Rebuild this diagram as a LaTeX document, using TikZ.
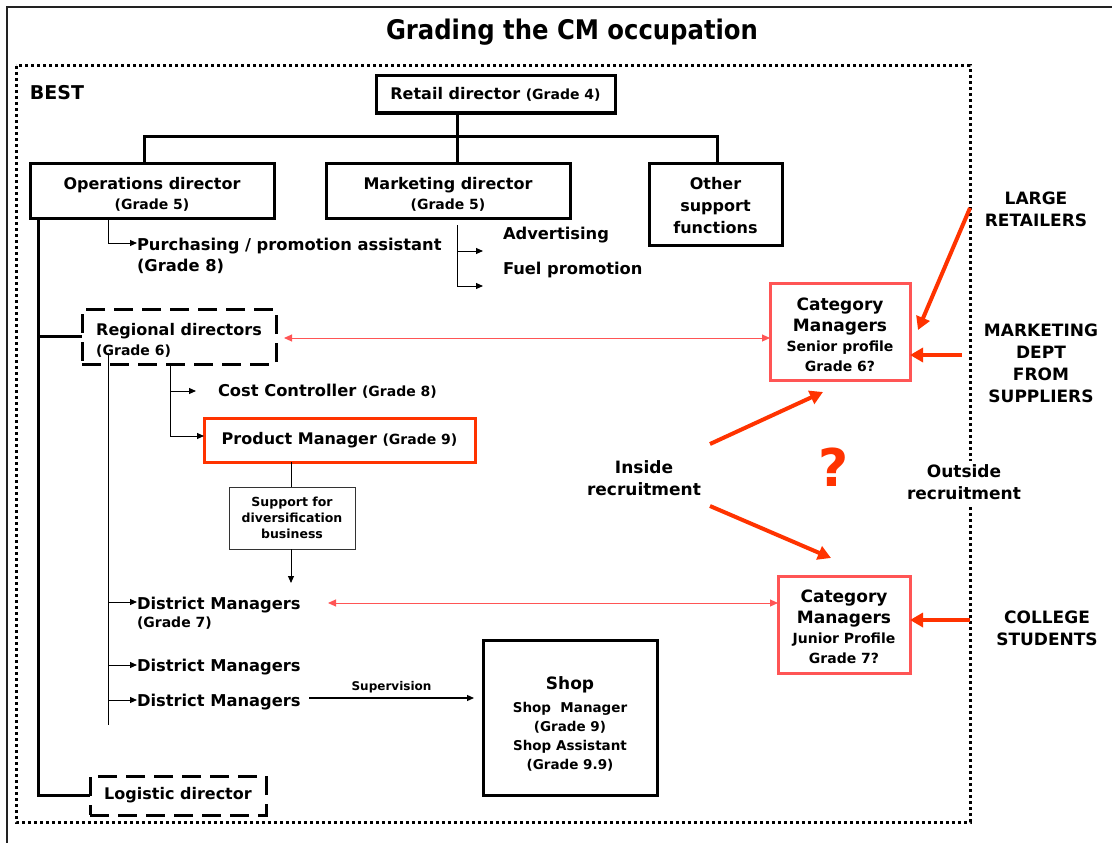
\documentclass[tikz,border=0pt]{standalone}
\usepackage{fontspec}
\setmainfont{DejaVu Sans}
\newfontfamily\titlefont{DejaVu Sans Condensed}
\usetikzlibrary{arrows.meta,calc}
\definecolor{hot}{HTML}{FF3300}
\definecolor{soft}{HTML}{FF5555}
\definecolor{frame}{HTML}{222222}
\newcommand\grd[1]{{\fontsize{14}{15}\selectfont #1}}
\newcommand\sml[1]{{\fontsize{14}{16}\selectfont #1}}
\newcommand\lift[1]{\rule{0pt}{#1}}
\begin{document}
\begin{tikzpicture}[x=1pt,y=-1pt,
  every node/.style={inner sep=0pt,outer sep=0pt},
  txt/.style={font=\fontsize{16}{20}\selectfont\bfseries,align=center},
  ltxt/.style={font=\fontsize{16.3}{20}\selectfont\bfseries,align=left,anchor=west},
  captxt/.style={font=\fontsize{17}{22}\selectfont\bfseries,align=center},
  box/.style={txt,draw,line width=3pt},
  dbox/.style={box,dash pattern=on 19pt off 9pt},
  redbox/.style={box,draw=hot},
  catbox/.style={draw=soft,line width=3pt,align=center,font=\fontsize{17}{21}\selectfont\bfseries},
  smallbox/.style={draw=black!80,line width=1pt,align=center,font=\fontsize{12.5}{16}\selectfont\bfseries},
  tree/.style={line width=3pt},
  thinline/.style={line width=1pt},
  tip/.style={thinline,-{Triangle[length=7pt,width=6pt]}},
  link/.style={soft,line width=1pt,{Triangle[length=8pt,width=7pt]}-{Triangle[length=8pt,width=7pt]}},
  push/.style={hot,line width=4pt,-{Triangle[length=13pt,width=14pt]}}
]
\useasboundingbox (0,0) rectangle (1112,843);

% outer frame and the dotted BEST boundary
\draw[frame,line width=1.8pt] (7,843) -- (7,7) -- (1112,7);
\draw[line width=3pt,dash pattern=on 3pt off 3pt] (16,66) rectangle (970,822);

\node[font=\fontsize{27}{30}\selectfont\titlefont\bfseries] (title) at (572,32) {Grading the CM occupation};
\node[font=\fontsize{19}{20}\selectfont\bfseries,anchor=west] (best) at (30,93) {BEST};

% top of the hierarchy
\node[box,minimum width=239pt,minimum height=37pt] (retail) at (495.5,94.5) {Retail director \grd{(Grade 4)}};
\node[box,minimum width=244pt,minimum height=55pt] (ops) at (152,190.5) {\lift{19pt}Operations director\\[0pt]\grd{(Grade 5)}};
\node[box,minimum width=244pt,minimum height=55pt] (mkt) at (448,190.5) {\lift{19pt}Marketing director\\[0pt]\grd{(Grade 5)}};
\node[box,minimum width=133pt,minimum height=82pt] (other) at (715.5,204) {\lift{16pt}Other\\[2pt]support\\[2pt]functions};

\coordinate (busL) at (144,136);
\coordinate (busM) at (457,136);
\coordinate (busR) at (717,136);
\draw[tree] (busM |- retail.south) -- (busM) -- (busM |- mkt.north);
\draw[tree] (busL |- ops.north) -- (busL) -- (busR) -- (busR |- other.north);

% operations director branch
\node[ltxt] (purch) at (137,256) {Purchasing / promotion assistant\\[1pt](Grade 8)};
\coordinate (opsTap) at (108,243);
\draw[tip] (opsTap |- ops.south) -- (opsTap) -- (opsTap -| purch.west);

% marketing director branch
\node[ltxt] (adv) at (503,235) {Advertising};
\node[ltxt] (fuel) at (503,270) {Fuel promotion};
\coordinate (mTop) at (457,225);
\coordinate (mA) at (457,251);
\coordinate (mB) at (457,286);
\coordinate (mAe) at (483,251);
\coordinate (mBe) at (483,286);
\draw[thinline] (mTop) -- (mB);
\draw[tip] (mA) -- (mAe);
\draw[tip] (mB) -- (mBe);

% regional and logistic directors
\node[dbox,minimum width=194pt,minimum height=55pt,align=left] (reg) at (179,336.5) {\lift{20pt}Regional directors\\[0pt]\grd{(Grade 6)}};
\node[dbox,minimum width=176pt,minimum height=39pt] (logi) at (178,795.5) {Logistic director};
\coordinate (spine) at (38,795.5);
\draw[tree] (spine |- ops.south) -- (spine) -- (logi.west);
\draw[tree] (spine |- reg.west) -- (reg.west);

% cost controller and product manager
\node[ltxt] (cost) at (218,391) {Cost Controller \grd{(Grade 8)}};
\node[redbox,minimum width=271pt,minimum height=44pt] (pm) at (339.5,440) {Product Manager \grd{(Grade 9)}};
\coordinate (rTap) at (170,436);
\coordinate (rA) at (170,391);
\coordinate (rAe) at (196,391);
\draw[thinline] (rTap |- reg.south) -- (rTap);
\draw[tip] (rA) -- (rAe);
\draw[tip] (rTap) -- (rTap -| pm.west) ;

% diversification support
\node[smallbox,minimum width=126pt,minimum height=62pt] (sup) at (292,518) {Support for\\diversification\\business};
\coordinate (supEnd) at (291,583);
\draw[thinline] (pm.south -| supEnd) -- (sup.north -| supEnd);
\draw[tip] (sup.south -| supEnd) -- (supEnd);

% district managers
\node[ltxt] (dm1) at (137,613) {District Managers\\[-2pt]\grd{(Grade 7)}};
\node[ltxt] (dm2) at (137,667) {District Managers};
\node[ltxt] (dm3) at (137,702) {District Managers};
\coordinate (vTop) at (108,353);
\coordinate (vBot) at (108,725);
\coordinate (d1) at (108,602);
\coordinate (d2) at (108,665);
\coordinate (d3) at (108,700);
\draw[thinline] (vTop) -- (vBot);
\draw[tip] (d1) -- (d1 -| dm1.west);
\draw[tip] (d2) -- (d2 -| dm2.west);
\draw[tip] (d3) -- (d3 -| dm3.west);

% shop
\node[draw,line width=3pt,minimum width=174pt,minimum height=155pt] (shop) at (570,717.5) {};
\node[font=\fontsize{17}{20}\selectfont\bfseries] (shopT) at (570,685) {Shop};
\node[font=\fontsize{13.5}{19}\selectfont\bfseries,align=center] (shopL) at (570,737) {Shop\ \ Manager\\(Grade 9)\\Shop Assistant\\(Grade 9.9)};
\coordinate (supS) at (309,698);
\coordinate (supE) at (474,698);
\draw[tip,line width=1.2pt] (supS) -- node[above=5pt,font=\fontsize{12}{14}\selectfont\bfseries] (supLbl) {Supervision} (supE);

% category managers
\node[catbox,minimum width=140pt,minimum height=97pt] (cms) at (840,331.5) {\lift{19pt}Category\\[0pt]Managers\\[-1pt]\sml{Senior profile}\\[-1pt]\sml{Grade 6?}};
\node[catbox,minimum width=132pt,minimum height=97pt] (cmj) at (844,624.5) {\lift{17pt}Category\\[0pt]Managers\\[-1pt]\sml{Junior Profile}\\[-1pt]\sml{Grade 7?}};
\coordinate (lnkA) at (284,338);
\coordinate (lnkB) at (328,603);
\draw[link] (lnkA) -- (lnkA -| cms.west);
\draw[link] (lnkB) -- (lnkB -| cmj.west);

% recruitment sources
\node[captxt] (inside) at (644,478.5) {Inside\\recruitment};
\node[captxt,fill=white,inner sep=4pt] (outside) at (964,482.5) {Outside\\recruitment};
\node[font=\fontsize{52}{54}\selectfont\bfseries,text=hot] (q) at (834,467) {?};
\node[captxt] (large) at (1036,209) {LARGE\\RETAILERS};
\node[captxt] (mds) at (1041,363.5) {MARKETING\\DEPT\\FROM\\SUPPLIERS};
\node[captxt] (coll) at (1047,628.5) {COLLEGE\\STUDENTS};

\coordinate (lrS) at (970,208);
\coordinate (lrE) at (918,330);
\coordinate (mdS) at (962,355);
\coordinate (clS) at (970,620);
\coordinate (inA) at (710,444);
\coordinate (inAe) at (823,392);
\coordinate (inB) at (710,506);
\coordinate (inBe) at (831,558);
\draw[push] (lrS) -- (lrE);
\draw[push] (mdS) -- (mdS -| cms.east) ;
\draw[push] (clS) -- (clS -| cmj.east);
\draw[push] (inA) -- (inAe);
\draw[push] (inB) -- (inBe);
\end{tikzpicture}
\end{document}
